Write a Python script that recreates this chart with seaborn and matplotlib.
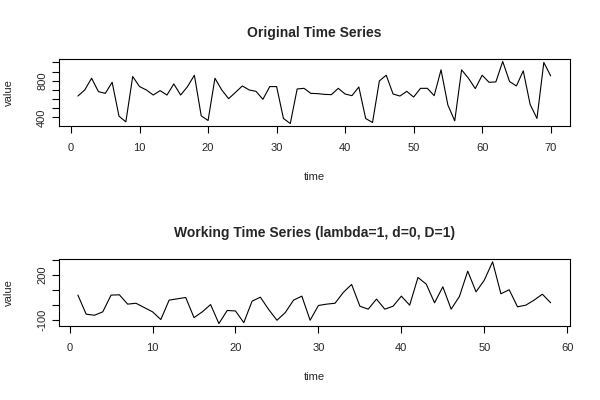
import numpy as np
import pandas as pd
import matplotlib
matplotlib.use("Agg")
import matplotlib.pyplot as plt
import seaborn as sb

# original series
orig_values = [634, 700, 828, 682, 663, 784, 414, 352, 847, 737,
               700, 645, 693, 645, 766, 645, 737, 861, 418, 367,
               828, 700, 605, 674, 744, 700, 685, 598, 737, 737,
               389, 334, 711, 718, 663, 660, 652, 649, 718, 656,
               638, 733, 389, 345, 799, 861, 656, 634, 685, 623,
               718, 718, 638, 920, 535, 363, 920, 828, 715, 861,
               784, 788, 1011, 792, 744, 909, 543, 389, 1000, 854]

# working series
work_values = [65, -64, -71, -48, 65, 67, 4, 10, -19, -48,
               -100, 31, 40, 49, -87, -48, 1, -127, -39, -42,
               -121, 24, 51, -32, -105, -53, 31, 58, -105, -5,
               4, 10, 83, 137, -10, -30, 38, -30, -10, 58,
               -3, 184, 139, 13, 121, -30, 56, 227, 87, 166,
               290, 74, 101, -14, -3, 31, 71, 13]

top_title = "Original Time Series"
bottom_title = "Working Time Series (lambda=1, d=0, D=1)"
top_yticks = [400, 500, 600, 700, 800, 900, 1000]
top_ylabels = ["400", "", "", "", "800", "", ""]
bottom_yticks = [-100, 0, 100, 200, 300]
bottom_ylabels = ["-100", "", "", "200", ""]

sb.set_style("white")
plt.rcParams['font.family'] = ['Liberation Sans', 'DejaVu Sans']
plt.rcParams['axes.unicode_minus'] = False

df_orig = pd.DataFrame({'time': np.arange(1, len(orig_values) + 1), 'value': orig_values})
df_work = pd.DataFrame({'time': np.arange(1, len(work_values) + 1), 'value': work_values})

fig = plt.figure(figsize=(6, 4), dpi=100)
ax1 = fig.add_axes([0.0983, 0.685, 0.851, 0.1675])
ax2 = fig.add_axes([0.0983, 0.185, 0.851, 0.1667])


def r_limits(vals):
    lo, hi = min(vals), max(vals)
    pad = (hi - lo) * 0.04
    return lo - pad, hi + pad


def style_panel(ax, data, title, xticks, yticks, ylabels):
    sb.lineplot(data=data, x='time', y='value', ax=ax, color='black', linewidth=0.8)
    ax.set_xlim(r_limits(data['time']))
    ax.set_ylim(r_limits(data['value']))
    ax.set_xticks(xticks)
    ax.set_xticklabels([str(t) for t in xticks], fontsize=8)
    ax.set_yticks(yticks)
    ax.set_yticklabels(ylabels, fontsize=8, rotation=90, va='center')
    ax.tick_params(axis='both', bottom=True, left=True, direction='out',
                   length=5, width=0.8, color='black')
    ax.tick_params(axis='x', pad=7)
    ax.tick_params(axis='y', pad=3.5)
    for s in ax.spines.values():
        s.set_visible(True)
        s.set_color('black')
        s.set_linewidth(0.8)
    ax.set_title(title, fontsize=10, fontweight='bold', pad=16)
    ax.set_xlabel('time', fontsize=8, labelpad=14)
    ax.set_ylabel('value', fontsize=8, labelpad=17)


style_panel(ax1, df_orig, top_title, [0, 10, 20, 30, 40, 50, 60, 70], top_yticks, top_ylabels)
style_panel(ax2, df_work, bottom_title, [0, 10, 20, 30, 40, 50, 60], bottom_yticks, bottom_ylabels)

plt.savefig('out.png', dpi=100)
